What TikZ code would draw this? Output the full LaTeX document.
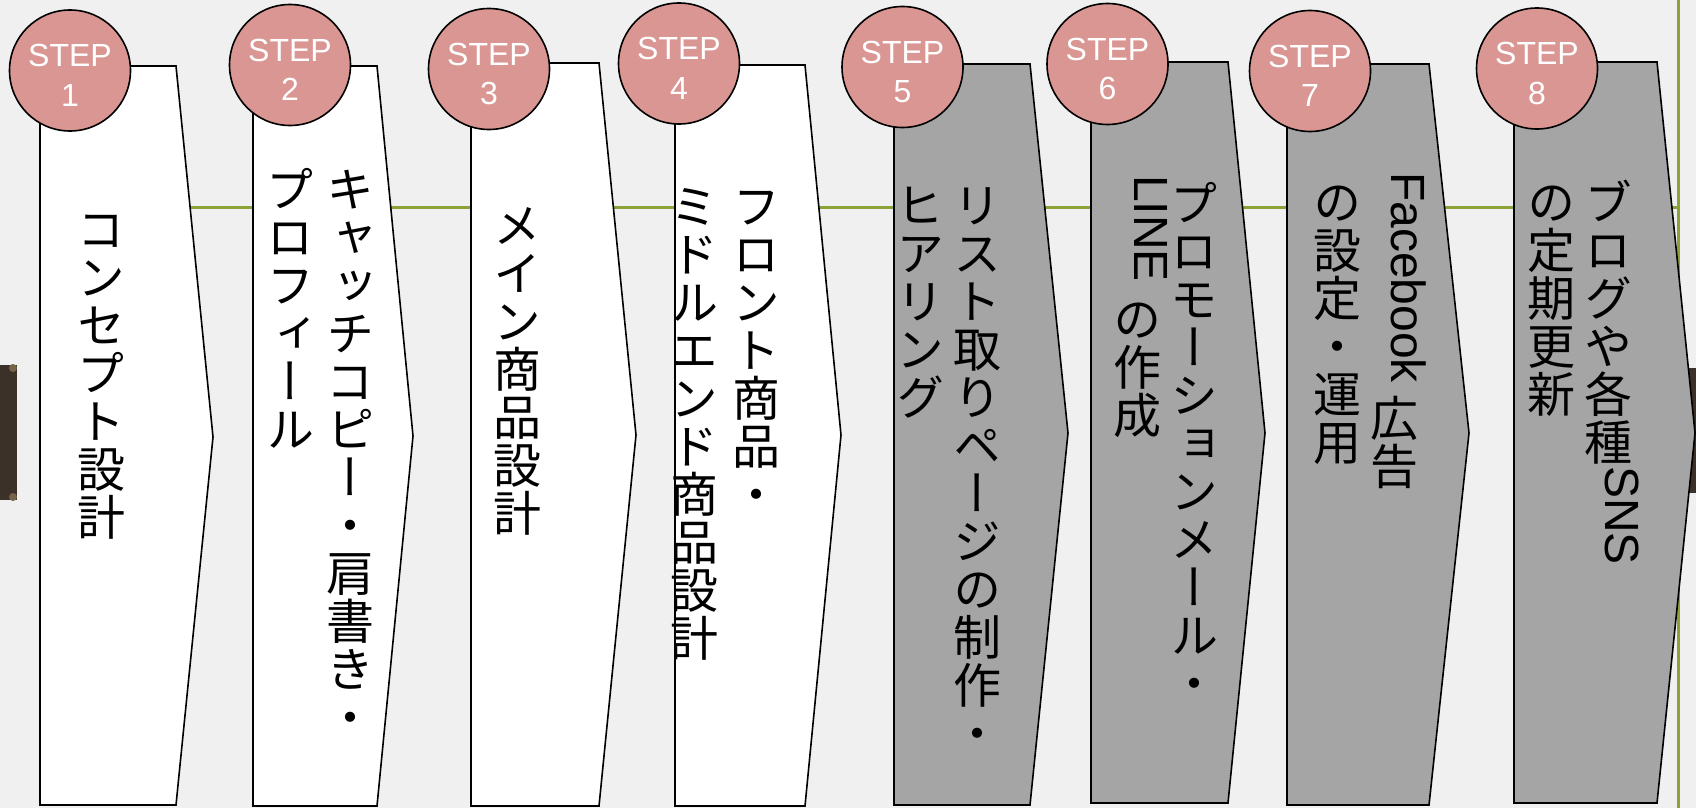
\documentclass[tikz,border=0pt]{standalone}
\usepackage{fontspec}
\usepackage{graphicx}
\newfontfamily\jpfont[RawFeature=+vert]{Noto Sans CJK JP}
\newfontfamily\lsans{Liberation Sans}
\definecolor{bgcol}{HTML}{F0F0F0}
\definecolor{shapegray}{HTML}{A5A5A5}
\definecolor{steppink}{HTML}{DA9692}
\definecolor{linegreen}{HTML}{8BA236}
\definecolor{clipbrown}{HTML}{3C3128}
\definecolor{knobbrown}{HTML}{75634A}

\makeatletter
\newdimen\tcw
\newcommand\tcol[1]{\vbox{\offinterlineskip\tcw=1em\relax#1}}
\def\tc@end{\tc@end@marker}
\newcommand\cj[1]{\cj@loop#1\tc@end}
\def\cj@loop#1{\ifx\tc@end#1\else\tc@cell{#1}\expandafter\cj@loop\fi}
\def\tc@cell#1{\hbox to \tcw{\hss\vrule height .88\tcw depth .12\tcw width 0pt\relax#1\hss}}
\newcommand\lat[2][11pt]{\hbox to \tcw{\kern\dimexpr .5\tcw - 3pt\relax
  \rotatebox{-90}{\hbox{\lsans\smash{#2}\kern#1}}\hss}}
\makeatother

\newcommand\chev[7]{\draw[#1] (#2,#3) -- (#4,#3) -- (#5,#6) -- (#4,#7) -- (#2,#7) -- cycle;}

\tikzset{
  shp/.style={draw=black, line width=1.6pt, line join=miter},
  wshape/.style={shp, fill=white},
  gshape/.style={shp, fill=shapegray},
  stepc/.style={circle, draw=black, line width=1.6pt, fill=steppink, minimum size=121pt, inner sep=0pt},
  steplbl/.style={text=white, font=\lsans\fontsize{32}{32}\selectfont, inner sep=0pt},
  tcolumn/.style={anchor=north, inner sep=0pt, font=\jpfont\fontsize{48}{48}\selectfont},
  greenline/.style={draw=linegreen, line width=3pt},
}

\begin{document}
\begin{tikzpicture}[x=1pt,y=-1pt]
\useasboundingbox (0,0) rectangle (1696,808);
\fill[bgcol] (0,0) rectangle (1696,808);

% clips of the background
\fill[clipbrown] (0,365) rectangle (17,500);
\fill[knobbrown] (13,368) circle (4);
\fill[knobbrown] (13,497) circle (4);
\fill[clipbrown] (1689,368) rectangle (1696,493);

% green guide lines
\coordinate (gl) at (100,207);
\coordinate (gr) at (1678,207);
\coordinate (gt) at (1678,0);
\coordinate (gb) at (1678,808);
\draw[greenline] (gl) -- (gr);
\draw[greenline] (gt) -- (gb);

% chevrons
\chev{wshape}{40}{66}{176}{213}{437}{805}
\chev{wshape}{253}{66}{377}{413}{436}{806}
\chev{wshape}{471}{63}{599}{636}{435}{806}
\chev{wshape}{675}{65}{805}{841}{435}{806}
\chev{gshape}{894}{64}{1030}{1068}{433}{805}
\chev{gshape}{1091}{62}{1228}{1265}{433}{803}
\chev{gshape}{1287}{64}{1429}{1469}{433}{805}
\chev{gshape}{1514}{62}{1657}{1695}{433}{803}

% step circles
\foreach \n/\cx/\cy in {1/70/70.5, 2/290/65, 3/489/69, 4/679/63.5, 5/902.5/67, 6/1107.5/64, 7/1310/71, 8/1537/68.5}{
  \node[stepc] (c\n) at (\cx,\cy) {};
  \node[steplbl] (s\n) at ([yshift=15pt]c\n.center) {STEP};
  \node[steplbl] (n\n) at ([yshift=-24.5pt]c\n.center) {\n};
}

% texts
\node[tcolumn] (t1) at (101,205) {\tcol{\cj{コンセプト設計}}};
\node[tcolumn] (t2a) at (350,165) {\tcol{\cj{キャッチコピー・肩書き・}}};
\node[tcolumn] (t2b) at (290,165) {\tcol{\cj{プロフィール}}};
\node[tcolumn] (t3) at (517.5,201) {\tcol{\cj{メイン商品設計}}};
\node[tcolumn] (t4a) at (756,182) {\tcol{\cj{フロント商品・}}};
\node[tcolumn] (t4b) at (694,182) {\tcol{\cj{ミドルエンド商品設計}}};
\node[tcolumn] (t5a) at (977,181) {\tcol{\cj{リスト取りページの制作・}}};
\node[tcolumn] (t5b) at (920,181) {\tcol{\cj{ヒアリング}}};
\node[tcolumn] (t6a) at (1194,179) {\tcol{\cj{プロモーションメール・}}};
\node[tcolumn] (t6b) at (1137,175) {\tcol{\lat[13pt]{LINE}\cj{の作成}}};
\node[tcolumn] (t7a) at (1394,172) {\tcol{\lat{Facebook}\cj{広告}}};
\node[tcolumn] (t7b) at (1337.5,178) {\tcol{\cj{の設定・運用}}};
\node[tcolumn] (t8a) at (1608,178) {\tcol{\cj{ブログや各種}\lat[0pt]{SNS}}};
\node[tcolumn] (t8b) at (1551,178) {\tcol{\cj{の定期更新}}};
\end{tikzpicture}
\end{document}
